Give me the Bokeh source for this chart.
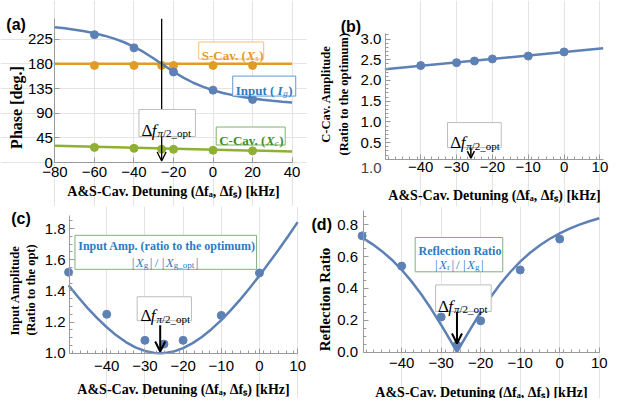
from bokeh.plotting import figure
from bokeh.layouts import column, row
from bokeh.models import (Range1d, FixedTicker, Label, BoxAnnotation, Arrow, OpenHead,
                          LinearAxis, Grid)
from bokeh.embed import file_html
from bokeh.resources import INLINE

# ---------------- data ----------------
# (a) phase vs detuning
a_curve_x = [-80, -75, -70, -65, -60, -55, -50, -45, -40, -35, -30, -25, -20,
             -15, -10, -5, 0, 5, 10, 15, 20, 25, 30, 35, 40]
a_input_curve = [246.7, 244.6, 242.1, 239.2, 235.6, 231.2, 225.8, 219.2, 211.0,
                 201.1, 189.7, 177.5, 165.6, 154.7, 145.5, 138.0, 131.9, 126.9,
                 122.9, 119.6, 116.9, 114.6, 112.6, 110.9, 109.4]
a_input_pts_x = [-60, -40, -20, 0, 20]
a_input_pts = [233, 209, 165, 132, 115]
a_line_x = [-80, 40]
a_scav_line = [180, 180]
a_ccav_line = [30.8, 20.3]
a_cav_pts_x = [-60, -40, -26, -20, 0, 20]
a_scav_pts = [177, 177, 177, 177, 177, 177]
a_ccav_pts = [27.8, 26.0, 24.3, 24.3, 22.6, 21.5]
a_xticks = [-80, -60, -40, -20, 0, 20, 40]
a_xtick_labels = ["−80", "−60", "−40", "−20", "0", "20", "40"]
a_yticks = [0, 45, 90, 135, 180, 225]
a_ytick_labels = ["0", "45", "90", "135", "180", "225"]

# (b) C-cavity amplitude
b_line_x = [-50, 10.9]
b_line = [2.27, 2.78]
b_pts_x = [-40, -30, -25, -20, -10, 0]
b_pts = [2.36, 2.43, 2.47, 2.52, 2.59, 2.69]
b_yticks = [0.5, 1.0, 1.5, 2.0, 2.5, 3.0]
b_ytick_labels = ["0.5", "1.0", "1.5", "2.0", "2.5", "3.0"]
b_bottom_label = "1.0"

# shared detuning ticks for (b), (c), (d)
bcd_xticks = [-40, -30, -20, -10, 0, 10]
bcd_xtick_labels = ["−40", "−30", "−20", "−10", "0", "10"]

# (c) input amplitude, (d) reflection ratio
cd_curve_x = [-50, -47.5, -45, -42.5, -40, -37.5, -35, -32.5, -30, -27.5, -26, -25,
              -22.5, -20, -17.5, -15, -12.5, -10, -7.5, -5, -2.5, 0, 2.5, 5, 7.5, 10]
c_curve = [1.436, 1.361, 1.290, 1.225, 1.167, 1.115, 1.072, 1.038, 1.015, 1.002, 1.000,
           1.001, 1.011, 1.033, 1.065, 1.106, 1.156, 1.213, 1.277, 1.346, 1.420, 1.498,
           1.580, 1.664, 1.751, 1.841]
c_pts_x = [-50, -40, -30, -25, -20, -10, 0]
c_pts = [1.52, 1.25, 1.083, 1.059, 1.083, 1.243, 1.515]
c_yticks = [1.0, 1.2, 1.4, 1.6, 1.8]
c_ytick_labels = ["1.0", "1.2", "1.4", "1.6", "1.8"]

d_curve = [0.719, 0.680, 0.634, 0.580, 0.517, 0.444, 0.362, 0.270, 0.170, 0.065, 0.0,
           0.043, 0.149, 0.250, 0.344, 0.429, 0.503, 0.568, 0.624, 0.671, 0.712, 0.746,
           0.776, 0.801, 0.822, 0.841]
d_pts_x = [-50, -40, -30, -26, -20, -10, 0]
d_pts = [0.73, 0.54, 0.22, 0.042, 0.196, 0.516, 0.71]
d_yticks = [0.0, 0.2, 0.4, 0.6, 0.8]
d_ytick_labels = ["0.0", "0.2", "0.4", "0.6", "0.8"]

df_opt = -26

# ---------------- style ----------------
SANS = "Liberation Sans"
SERIF = "Liberation Serif"
BLUE = "#5E81B5"
ORANGE = "#E19C24"
GREEN = "#8FB032"
TXT_BLUE = "#2C7BC4"
TXT_GREEN = "#3A8F23"
TXT_ORANGE = "#E39A22"
AXC = "#9A9A9A"
GRIDC = "#E4E4E4"
XTITLE = "A&S-Cav. Detuning (Δfₐ, Δfₛ) [kHz]"

# ---------------- layout helpers (reference pixel -> page pixel -> data) ----------------
SX = 0.972


def page_x(rx):
    return 8 + (rx - 5) * SX


def page_y(ry):
    return 10 + 0.955 * ry


def setup(canvas, xa, ya):
    cl, ct, w, h = canvas
    p1, p2 = page_x(xa[1]), page_x(xa[3])
    kx = (xa[2] - xa[0]) / (p2 - p1)
    x0 = xa[0] - (p1 - cl) * kx
    q1, q2 = page_y(ya[1]), page_y(ya[3])
    ky = (ya[2] - ya[0]) / (q1 - q2)
    ytop = ya[0] + (q1 - ct) * ky
    M = dict(w=w, h=h, x0=x0, x1=x0 + w * kx, ytop=ytop, ybot=ytop - h * ky,
             ppx=1 / kx, ppy=1 / ky)

    def R(rx=None, ry=None):
        x = None if rx is None else x0 + (page_x(rx) - cl) * kx
        y = None if ry is None else ytop - (page_y(ry) - ct) * ky
        return x, y
    return M, R


def make_fig(M):
    p = figure(width=M["w"], height=M["h"], x_range=Range1d(M["x0"], M["x1"]),
               y_range=Range1d(M["ybot"], M["ytop"]), x_axis_location=None,
               y_axis_location=None, title=None, min_border=0,
               output_backend="svg", toolbar_location=None)
    p.outline_line_color = None
    p.background_fill_color = "white"
    p.border_fill_color = "white"
    p.grid.visible = False
    return p


def style_axis(ax, title, lab_stand, title_stand):
    ax.axis_line_color = AXC
    ax.major_tick_line_color = AXC
    ax.minor_tick_line_color = AXC
    ax.major_tick_in = 5
    ax.major_tick_out = 0
    ax.minor_tick_in = 3
    ax.minor_tick_out = 0
    ax.major_label_text_font = SANS
    ax.major_label_text_font_size = "15px"
    ax.major_label_text_color = "black"
    if title:
        ax.axis_label = title
        ax.axis_label_text_font = SERIF
        ax.axis_label_text_font_style = "bold"
        ax.axis_label_text_font_size = "14px"
        ax.axis_label_text_color = "black"
        ax.axis_label_standoff = title_stand
    ax.major_label_standoff = lab_stand


def add_axes(p, xfix, xb, yfix, yb, xt, xl, yt, yl, xminor, yminor, stand):
    xax = LinearAxis(fixed_location=xfix, bounds=xb,
                     ticker=FixedTicker(ticks=xt, minor_ticks=xminor),
                     major_label_overrides={t: l for t, l in zip(xt, xl)})
    style_axis(xax, XTITLE, stand[0], stand[1])
    p.add_layout(xax, "below")
    yax = LinearAxis(fixed_location=yfix, bounds=yb,
                     ticker=FixedTicker(ticks=yt, minor_ticks=yminor),
                     major_label_overrides={t: l for t, l in zip(yt, yl)})
    style_axis(yax, None, stand[2], 0)
    p.add_layout(yax, "left")


def vtitle(p, R, rx, ry, text, size):
    x, y = R(rx, ry)
    p.add_layout(Label(x=x, y=y, text=text, angle=90, angle_units="deg",
                       text_font=SERIF, text_font_size=size, text_font_style="bold",
                       text_color="black", text_align="center", text_baseline="middle"))


def add_grid(p, dim, ticks, bounds):
    p.add_layout(Grid(dimension=dim, ticker=FixedTicker(ticks=ticks), bounds=bounds,
                      grid_line_color=GRIDC, grid_line_width=1))


def rich(p, ax_, ay_, ppx, ppy, pieces, box=None, box_color=None):
    """pieces: (text, dx_px, dy_px, size, style, color); anchor = baseline-left."""
    if box is not None:
        l, r, t, b = box
        p.add_layout(BoxAnnotation(left=ax_ + l / ppx, right=ax_ + r / ppx,
                                   top=ay_ - t / ppy, bottom=ay_ - b / ppy,
                                   fill_color="white", fill_alpha=1.0,
                                   line_color=box_color, line_width=1, line_alpha=1.0))
    for txt, dx, dy, size, style, color in pieces:
        p.add_layout(Label(x=ax_ + dx / ppx, y=ay_ - dy / ppy, text=txt,
                           text_font=SERIF, text_font_size=f"{size}px",
                           text_font_style=style, text_color=color,
                           text_baseline="alphabetic", text_align="left"))


def delta_f(p, R, M, rx, ry, box):
    x, y = R(rx, ry)
    pcs = [("Δ", 0, 0, 17, "normal", "black"),
           ("f", 10.4, 0, 17, "italic", "black"),
           ("π", 16.0, 3, 11, "italic", "black"),
           ("/2_opt", 21.5, 3, 11, "normal", "black")]
    rich(p, x, y, M["ppx"], M["ppy"], pcs, box=box, box_color="#BDBDBD")


def letter(p, R, rx, ry, txt):
    x, y = R(rx, ry)
    p.add_layout(Label(x=x, y=y, text=txt, text_font=SANS, text_font_size="16px",
                       text_font_style="bold", text_color="black",
                       text_baseline="alphabetic", text_align="left"))


def arrow(p, x, y0, y1, size, width):
    p.add_layout(Arrow(end=OpenHead(size=size, line_width=width, line_color="black"),
                       x_start=x, y_start=y0, x_end=x, y_end=y1,
                       line_color="black", line_width=width))


TOP_H, BOT_H = 206, 192

# ---------------- (a) ----------------
Ma, Ra = setup((8, 8, 307, TOP_H), (-80, 61, 40, 305), (0, 167.7, 225, 38.3))
pa = make_fig(Ma)
a_top = Ra(None, 17)[1]
add_grid(pa, 0, a_xticks, (0, a_top))
add_grid(pa, 1, a_yticks, (-80, 40))
add_axes(pa, 0, (-80, 40), -80, (0, a_top), a_xticks, a_xtick_labels, a_yticks,
         a_ytick_labels, [], [], (4, 4, 2, 0))
vtitle(pa, Ra, 21.7, 110, "Phase [deg.]", "16px")

pa.line(a_line_x, a_scav_line, line_color=ORANGE, line_width=2.5)
pa.scatter(a_cav_pts_x, a_scav_pts, size=8, color=ORANGE)
pa.line(a_line_x, a_ccav_line, line_color=GREEN, line_width=2.5)
pa.scatter(a_cav_pts_x, a_ccav_pts, size=8, color=GREEN)
pa.line(a_curve_x, a_input_curve, line_color=BLUE, line_width=2.5)
pa.scatter(a_input_pts_x, a_input_pts, size=8, color=BLUE)
arrow(pa, df_opt, a_top, 3, 9, 1.3)

delta_f(pa, Ra, Ma, 150, 134, (-2.5, 54, -21, 6))
x, y = Ra(212, 55)
rich(pa, x, y, Ma["ppx"], Ma["ppy"],
     [("S-Cav. (", 0, 0, 13, "bold", TXT_ORANGE),
      ("X", 44.8, 0, 13, "bold italic", TXT_ORANGE),
      ("s", 53.5, 3, 9, "italic", TXT_ORANGE),
      (")", 57.5, 0, 13, "bold", TXT_ORANGE)],
     box=(-3, 62, -13, 4), box_color="#F2C27A")
x, y = Ra(247, 91.7)
rich(pa, x, y, Ma["ppx"], Ma["ppy"],
     [("Input  (", 0, 0, 13, "bold", TXT_BLUE),
      ("I", 41.9, 0, 13, "bold italic", TXT_BLUE),
      ("g", 47.5, 3, 9, "italic", TXT_BLUE),
      (")", 52.5, 0, 13, "bold", TXT_BLUE)],
     box=(-3, 60, -14, 6), box_color="#5B9BD5")
x, y = Ra(230, 144)
rich(pa, x, y, Ma["ppx"], Ma["ppy"],
     [("C-Cav. (", 0, 0, 13, "bold", TXT_GREEN),
      ("X", 46.9, 0, 13, "bold italic", TXT_GREEN),
      ("c", 55.6, 3, 9, "italic", TXT_GREEN),
      (")", 60.0, 0, 13, "bold", TXT_GREEN)],
     box=(-3, 66, -13, 5), box_color="#7FB26A")
letter(pa, Ra, 11, 23, "(a)")

# ---------------- (b) ----------------
Mb, Rb = setup((315, 8, 305, TOP_H), (-40, 437.3, 10, 621.7), (0.5, 146.7, 3.0, 38.3))
pb = make_fig(Mb)
b_left, b_right = Rb(401)[0], Rb(625)[0]
b_bot, b_top = Rb(None, 164)[1], Rb(None, 32)[1]
add_grid(pb, 0, bcd_xticks, (b_bot, b_top))
add_axes(pb, b_bot, (b_left, b_right), b_left, (b_bot, b_top), bcd_xticks,
         bcd_xtick_labels, b_yticks, b_ytick_labels,
         [v / 2 for v in range(-98, 21, 4)], [v / 10 for v in range(2, 32)],
         (3, 12, 4, 0))
vtitle(pb, Rb, 340, 96, "C-Cav. Amplitude", "12.5px")
vtitle(pb, Rb, 358, 96, "(Ratio to the optimum)", "12.5px")
bx, by = Rb(397, 173)
pb.add_layout(Label(x=bx, y=by, text=b_bottom_label, text_font=SANS,
                    text_font_size="15px", text_align="right", text_baseline="middle"))

pb.line(b_line_x, b_line, line_color=BLUE, line_width=2.5)
pb.scatter(b_pts_x, b_pts, size=8, color=BLUE)
delta_f(pb, Rb, Mb, 467.7, 146.7, (-2.7, 51, -20, 5))
arrow(pb, df_opt, Rb(None, 152)[1], Rb(None, 163)[1], 7, 1.5)
letter(pb, Rb, 355, 25, "(b)")

# ---------------- (c) ----------------
Mc, Rc = setup((8, 8 + TOP_H, 307, BOT_H), (-40, 114.3, 10, 310.7), (1.0, 367.3, 1.8, 236.7))
pc = make_fig(Mc)
c_left, c_right = Rc(76)[0], Rc(311)[0]
c_top = Rc(None, 223)[1]
add_grid(pc, 0, bcd_xticks, (1.0, c_top))
add_axes(pc, 1.0, (c_left, c_right), c_left, (1.0, c_top), bcd_xticks,
         bcd_xtick_labels, c_yticks, c_ytick_labels,
         [v / 2 for v in range(-98, 21, 4)], [1.0 + v * 0.05 for v in range(1, 18)],
         (8, 7, 4, 0))
vtitle(pc, Rc, 20, 300, "Input  Amplitude", "12.5px")
vtitle(pc, Rc, 36, 301, "(Ratio to the opt)", "12.5px")

pc.line(cd_curve_x, c_curve, line_color=BLUE, line_width=2.5)
pc.scatter(c_pts_x, c_pts, size=8, color=BLUE)
arrow(pc, df_opt, Rc(None, 338)[1], Rc(None, 365.5)[1], 10, 2)
delta_f(pc, Rc, Mc, 149, 328, (-3.3, 51, -19, 5))
x, y = Rc(85, 255)
rich(pc, x, y, Mc["ppx"], Mc["ppy"],
     [("Input Amp.  (ratio to the optimum)", 0, 0, 12, "bold", TXT_BLUE)],
     box=(-3.3, 178.3, -10.7, 23.3), box_color="#7DB37D")
x, y = Rc(140, 272)
rich(pc, x, y, Mc["ppx"], Mc["ppy"],
     [("|", 0, 0, 13, "normal", TXT_BLUE),
      ("X", 4, 0, 13, "italic", TXT_BLUE),
      ("g", 12, 3, 9, "normal", TXT_BLUE),
      ("|", 18, 0, 13, "normal", TXT_BLUE),
      ("/", 23, 0, 13, "normal", TXT_BLUE),
      ("|", 30, 0, 13, "normal", TXT_BLUE),
      ("X", 34, 0, 13, "italic", TXT_BLUE),
      ("g_opt", 42, 3, 9, "normal", TXT_BLUE),
      ("|", 64, 0, 13, "normal", TXT_BLUE)])
letter(pc, Rc, 16, 226, "(c)")

# ---------------- (d) ----------------
Md, Rd = setup((315, 8 + TOP_H, 305, BOT_H), (-40, 417.7, 10, 621), (0.0, 366, 0.8, 232.7))
pd_ = make_fig(Md)
d_left, d_right = Rd(378)[0], Rd(621)[0]
d_top = Rd(None, 218)[1]
add_grid(pd_, 0, bcd_xticks, (0.0, d_top))
add_axes(pd_, 0.0, (d_left, d_right), d_left, (0.0, d_top), bcd_xticks,
         bcd_xtick_labels, d_yticks, d_ytick_labels,
         [v / 2 for v in range(-98, 21, 4)], [v * 0.05 for v in range(1, 18)],
         (6, 13, 5, 0))
vtitle(pd_, Rd, 339, 311, "Reflection Ratio", "15px")

pd_.line(cd_curve_x, d_curve, line_color=BLUE, line_width=2.5)
pd_.scatter(d_pts_x, d_pts, size=8, color=BLUE)
arrow(pd_, df_opt, Rd(None, 323)[1], Rd(None, 357)[1], 10, 2)
delta_f(pd_, Rd, Md, 455, 318.3, (-2.3, 53.3, -21.6, 5))
x, y = Rd(435, 260)
rich(pd_, x, y, Md["ppx"], Md["ppy"],
     [("Reflection Ratio", 0, 0, 12, "bold", TXT_BLUE)],
     box=(-3.3, 84.3, -13.3, 21), box_color="#7DB37D")
x, y = Rd(452, 274)
rich(pd_, x, y, Md["ppx"], Md["ppy"],
     [("|", 0, 0, 13, "normal", TXT_BLUE),
      ("X", 4, 0, 13, "italic", TXT_BLUE),
      ("r", 12, 3, 9, "normal", TXT_BLUE),
      ("|", 16.5, 0, 13, "normal", TXT_BLUE),
      ("/", 21, 0, 13, "normal", TXT_BLUE),
      ("|", 28, 0, 13, "normal", TXT_BLUE),
      ("X", 32, 0, 13, "italic", TXT_BLUE),
      ("g", 40, 3, 9, "normal", TXT_BLUE),
      ("|", 46, 0, 13, "normal", TXT_BLUE)])
letter(pd_, Rd, 325, 232, "(d)")

layout = column(row(pa, pb), row(pc, pd_))
open("out.html", "w").write(file_html(layout, INLINE))
